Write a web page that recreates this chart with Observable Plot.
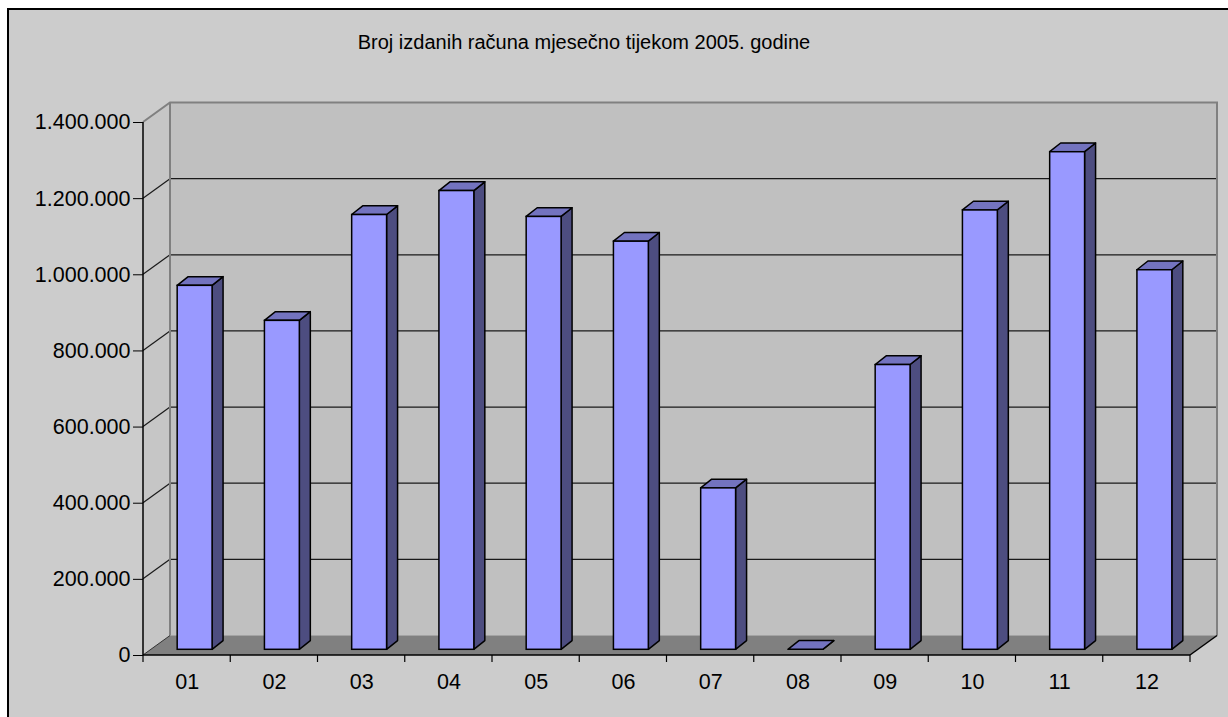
<!DOCTYPE html>
<html><head><meta charset="utf-8">
<script src="https://cdn.jsdelivr.net/npm/d3@7"></script>
<script src="https://cdn.jsdelivr.net/npm/@observablehq/plot@0.6"></script>
<style>
html,body{margin:0;padding:0;background:#fff;overflow:hidden;width:1228px;height:717px;}
#bg{position:absolute;left:7px;top:8px;width:1300px;height:800px;background:#cccccc;border-left:2px solid #000;border-top:2px solid #000;}
#chart{position:absolute;left:0;top:0;width:1228px;}
#title{height:60px;box-sizing:border-box;padding-top:32px;font-family:"Liberation Sans",Arial,sans-serif;font-size:20px;line-height:20px;text-align:center;width:1168px;color:#000;white-space:nowrap;}
#chart svg{display:block;}
</style></head><body>
<div id="bg"></div>
<div id="chart"><div id="title"></div></div>
<script>
const chartTitle = "Broj izdanih računa mjesečno tijekom 2005. godine";
const months = ["01","02","03","04","05","06","07","08","09","10","11","12"];
const counts = [956000, 864000, 1142000, 1205000, 1137000, 1072000, 424000, 0, 748000, 1154000, 1307000, 997000];
const yTicks = [0, 200000, 400000, 600000, 800000, 1000000, 1200000, 1400000];

const data = months.map((m, i) => ({month: m, count: counts[i]}));
const yMax = yTicks[yTicks.length - 1];

// 3D geometry (pixel offsets)
const WX = 27, WY = -19.5;   // wall depth
const BX = 8, BY = -5.7;     // bar front offset from front plane
const DX = 11, DY = -8.7;    // bar depth

const fmt = d3.formatLocale({decimal: ",", thousands: ".", grouping: [3], currency: ["", ""]}).format(",");
const pts = a => a.map(p => p.join(",")).join(" ");

function bandInfo(x) {
  const bw = x.bandwidth ? x.bandwidth() : 0;
  const step = x.step ? x.step() : (x(months[1]) - x(months[0]));
  return {bw, step};
}

function walls(index, scales, values, dim) {
  const x = scales.x, y = scales.y;
  const L = dim.marginLeft, R = dim.width - dim.marginRight;
  const y0 = y(0), yT = y(yMax);
  const g = d3.create("svg:g");
  g.append("polygon").attr("points", pts([[L,y0],[L,yT],[L+WX,yT+WY],[L+WX,y0+WY]])).attr("fill", "#c6c6c6");
  g.append("polygon").attr("points", pts([[L+WX,yT+WY],[R+WX,yT+WY],[R+WX,y0+WY],[L+WX,y0+WY]])).attr("fill", "#c0c0c0");
  g.append("polygon").attr("points", pts([[L,y0],[R,y0],[R+WX,y0+WY],[L+WX,y0+WY]])).attr("fill", "#808080");
  yTicks.slice(1, -1).forEach(t => {
    const yy = y(t);
    g.append("line").attr("x1", L).attr("y1", yy).attr("x2", L+WX).attr("y2", yy+WY).attr("stroke", "#1a1a1a").attr("stroke-width", 1.2);
    g.append("line").attr("x1", L+WX).attr("y1", yy+WY).attr("x2", R+WX).attr("y2", yy+WY).attr("stroke", "#1a1a1a").attr("stroke-width", 1.2);
  });
  g.append("polyline").attr("points", pts([[L,yT],[L+WX,yT+WY],[R+WX,yT+WY],[R+WX,y0+WY]])).attr("fill", "none").attr("stroke", "#808080").attr("stroke-width", 2);
  g.append("line").attr("x1", L+WX).attr("y1", yT+WY).attr("x2", L+WX).attr("y2", y0+WY).attr("stroke", "#808080").attr("stroke-width", 2);
  g.append("line").attr("x1", L).attr("y1", y0).attr("x2", L+WX).attr("y2", y0+WY).attr("stroke", "#333").attr("stroke-width", 1);
  return g.node();
}

function barFaces(index, scales) {
  const x = scales.x, y = scales.y;
  const {bw} = bandInfo(x);
  const g = d3.create("svg:g").attr("stroke", "#000").attr("stroke-width", 1.5).attr("stroke-linejoin", "round");
  data.forEach(d => {
    const xl = x(d.month) + BX, xr = xl + bw, yb = y(0) + BY, yt = y(d.count) + BY;
    g.append("polygon").attr("points", pts([[xr,yb],[xr,yt],[xr+DX,yt+DY],[xr+DX,yb+DY]])).attr("fill", "#4d4d80");
    g.append("polygon").attr("points", pts([[xl,yt],[xr,yt],[xr+DX,yt+DY],[xl+DX,yt+DY]])).attr("fill", "#7373bf");
  });
  return g.node();
}

function frontAxes(index, scales, values, dim) {
  const x = scales.x, y = scales.y;
  const {step} = bandInfo(x);
  const L = dim.marginLeft, R = dim.width - dim.marginRight;
  const y0 = y(0), yT = y(yMax);
  const g = d3.create("svg:g").attr("stroke", "#000").attr("fill", "none");
  g.append("line").attr("x1", L).attr("y1", yT).attr("x2", L).attr("y2", y0).attr("stroke-width", 1.5);
  g.append("line").attr("x1", L).attr("y1", y0).attr("x2", R).attr("y2", y0).attr("stroke-width", 1.5);
  g.append("line").attr("x1", R).attr("y1", y0).attr("x2", R+WX).attr("y2", y0+WY).attr("stroke-width", 1.5);
  for (let k = 0; k <= months.length; k++) {
    const xx = L + k * step;
    g.append("line").attr("x1", xx).attr("y1", y0).attr("x2", xx).attr("y2", y0 + 7).attr("stroke-width", 1.2);
  }
  return g.node();
}

document.getElementById("title").textContent = chartTitle;

const chart = Plot.plot({
  width: 1228,
  height: 657,
  marginLeft: 143,
  marginRight: 38,
  marginTop: 62,
  marginBottom: 62,
  style: {background: "transparent", fontSize: "21.5px", fontFamily: "'Liberation Sans', Arial, sans-serif", color: "#000", overflow: "visible"},
  x: {type: "band", domain: months, paddingInner: 0.6, paddingOuter: 0.3, align: 0.5, round: false, tickSize: 0, tickPadding: 18, label: null},
  y: {domain: [0, yMax], ticks: yTicks, tickFormat: fmt, tickSize: 10, tickPadding: 3, label: null},
  marks: [
    walls,
    barFaces,
    Plot.barY(data, {x: "month", y: "count", fill: "#9999ff", stroke: "#000", strokeWidth: 1.5, dx: BX, dy: BY}),
    frontAxes
  ]
});
document.getElementById("chart").appendChild(chart);
</script>
</body></html>
